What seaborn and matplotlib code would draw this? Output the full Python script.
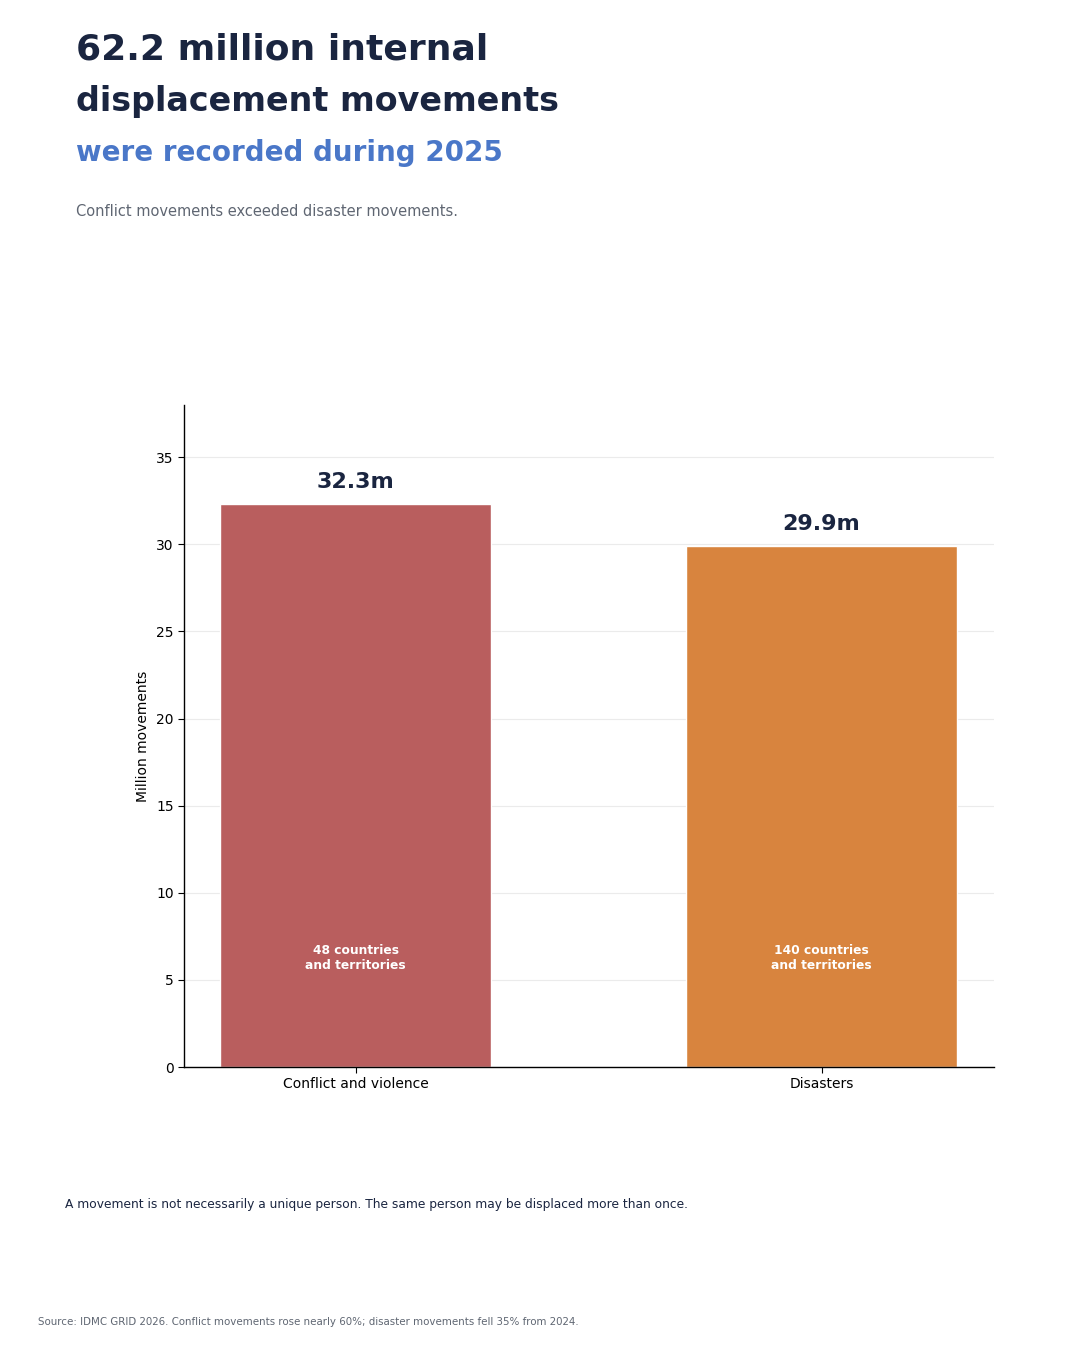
import seaborn as sns
import matplotlib.pyplot as plt
import pandas as pd

categories = ["Conflict and violence", "Disasters"]
movements = [32.3, 29.9]
value_labels = ["32.3m", "29.9m"]
country_labels = ["48 countries\nand territories", "140 countries\nand territories"]
colors = ["#B95E5E", "#D8843E"]

NAVY = "#1A2540"
BLUE = "#4A77C8"
GREY = "#5F6672"


def run():
    sns.set_style("white")
    plt.rcParams["font.family"] = ["DejaVu Sans"]

    df = pd.DataFrame({"category": categories, "movements": movements})

    fig = plt.figure(figsize=(10.8, 13.5), dpi=100)
    ax = fig.add_axes([0.1704, 0.2096, 0.75, 0.4904])

    sns.barplot(data=df, x="category", y="movements", hue="category",
                palette=colors, width=0.58, saturation=1, legend=False, ax=ax)

    ax.set_ylim(0, 38)
    ax.set_xlim(-0.368, 1.37)
    ax.set_yticks([0, 5, 10, 15, 20, 25, 30, 35])
    ax.yaxis.grid(True, color="#EBEBEB", linewidth=0.8)
    ax.set_axisbelow(True)
    sns.despine(ax=ax)
    for s in ["left", "bottom"]:
        ax.spines[s].set_color("black")
        ax.spines[s].set_linewidth(1)
    ax.tick_params(axis="both", length=4, color="black", labelsize=10, labelcolor="black")
    ax.tick_params(axis="both", which="both", bottom=True, left=True)
    ax.set_xlabel("")
    ax.set_ylabel("Million movements", fontsize=10, color="black")

    for i, (v, lab, cl) in enumerate(zip(movements, value_labels, country_labels)):
        ax.annotate(lab, (i, v), xytext=(0, 9), textcoords="offset points",
                    ha="center", va="bottom", fontsize=16, fontweight="bold", color=NAVY)
        ax.text(i, 6.25, cl, ha="center", va="center", fontsize=8.8,
                fontweight="bold", color="white", linespacing=1.2)

    fig.text(0.0704, 0.9556, "62.2 million internal", fontsize=26, fontweight="bold",
             color=NAVY, va="baseline")
    fig.text(0.0704, 0.9178, "displacement movements", fontsize=24, fontweight="bold",
             color=NAVY, va="baseline")
    fig.text(0.0704, 0.8805, "were recorded during 2025", fontsize=20, fontweight="bold",
             color=BLUE, va="baseline")
    fig.text(0.0704, 0.8400, "Conflict movements exceeded disaster movements.",
             fontsize=10.5, color=GREY, va="baseline")
    fig.text(0.060, 0.1053, "A movement is not necessarily a unique person. "
             "The same person may be displaced more than once.",
             fontsize=8.8, color=NAVY, va="baseline")
    fig.text(0.035, 0.0185, "Source: IDMC GRID 2026. Conflict movements rose nearly 60%; "
             "disaster movements fell 35% from 2024.",
             fontsize=7.4, color=GREY, va="baseline")

    fig.savefig("out.png", dpi=100)
    plt.close(fig)


if __name__ == "__main__":
    run()
